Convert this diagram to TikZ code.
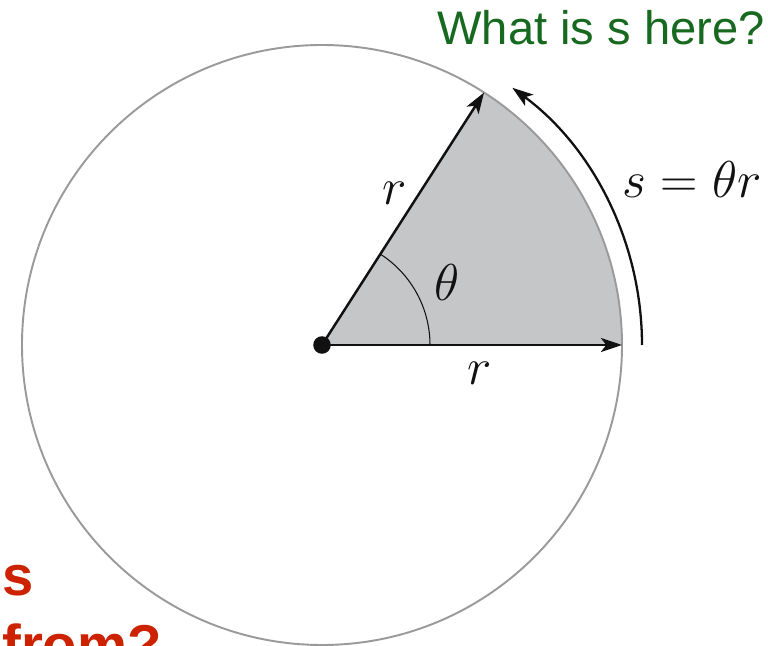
\RequirePackage{fix-cm}
\documentclass[tikz,border=0pt]{standalone}
\usepackage{amsmath}
\usepackage{fontspec}
\usepackage{tikz}
\usetikzlibrary{arrows.meta,calc,positioning}
\newfontfamily\arialfont{Liberation Sans}
\definecolor{verde}{HTML}{17691F}
\definecolor{rojo}{HTML}{CC2200}
\definecolor{gris}{HTML}{9A9A9A}
\definecolor{sombra}{HTML}{C5C6C8}
\definecolor{tinta}{HTML}{111111}
\tikzset{
  circulo/.style={draw=gris,line width=1.1pt},
  sector/.style={fill=sombra},
  radio/.style={draw=tinta,line width=1.4pt,-{Stealth[length=12pt,width=8pt,inset=3pt]}},
  arco/.style={draw=tinta,line width=1.3pt,-{Stealth[length=12pt,width=8pt,inset=3pt]}},
  angulo/.style={draw=tinta,line width=0.6pt},
  punto/.style={circle,fill=tinta,inner sep=0pt,minimum size=10pt},
  etiq/.style={font=\fontsize{29.5}{32}\selectfont,text=tinta,inner sep=0pt},
  pregunta/.style={font=\arialfont\fontsize{26.8}{30}\selectfont,text=verde,inner sep=0pt},
  aviso/.style={font=\arialfont\bfseries\fontsize{32}{36}\selectfont,text=rojo,inner sep=0pt},
}
\begin{document}
\begin{tikzpicture}[x=0.02cm,y=0.02cm]
\useasboundingbox (-322,-301) rectangle (446,345);
\clip (-322,-301) rectangle (446,345);
\coordinate (O) at (0,0);
\coordinate (A) at (57.3:300);
\coordinate (B) at (0:300);
\coordinate (C) at (0:108);
\coordinate (S0) at (0:320);
% sector and circle
\fill[sector] (O) -- (B) arc[start angle=0,end angle=57.3,radius=300] -- cycle;
\draw[circulo] (O) circle[radius=300];
\draw[angulo] (C) arc[start angle=0,end angle=57.3,radius=108];
\draw[radio] (O) -- (A);
\draw[radio] (O) -- (B);
\draw[arco] (S0) arc[start angle=0,end angle=53.5,radius=320];
\node[punto] (centro) at (O) {};
% labels
\node[etiq] (rsup) at (73,152) {$r$};
\node[etiq] (rinf) at (158,-28) {$r$};
\node[etiq] (theta) at (125,62) {$\theta$};
\node[etiq,anchor=base west] (sigual) at (300,147) {$s=\theta r$};
\node[pregunta,anchor=base east] (q1) at (443,300) {What is s here?};
\node[aviso,anchor=base west] (q2) at (-320,-250) {s};
\node[aviso,anchor=base west] (q3) at (-320,-319) {from?};
\end{tikzpicture}
\end{document}
